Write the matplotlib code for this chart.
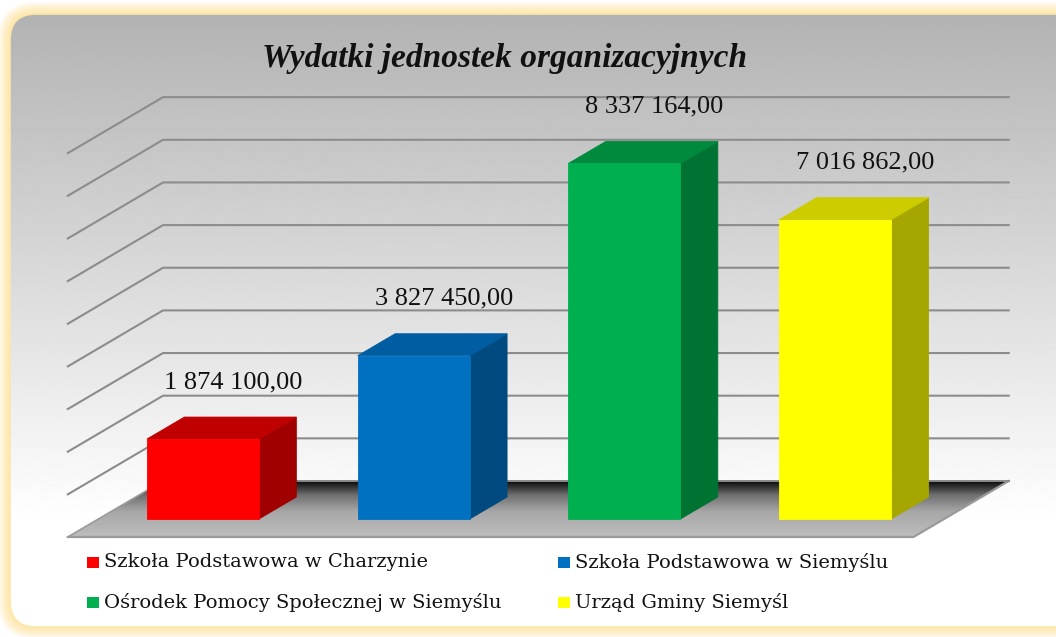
import numpy as np
import matplotlib
matplotlib.use("Agg")
import matplotlib.pyplot as plt
from matplotlib.patches import Polygon, Rectangle, FancyBboxPatch
from matplotlib.colors import LinearSegmentedColormap

# --- data ---
categories = ["Szkoła Podstawowa w Charzynie", "Szkoła Podstawowa w Siemyślu",
              "Ośrodek Pomocy Społecznej w Siemyślu", "Urząd Gminy Siemyśl"]
values = [1874100.00, 3827450.00, 8337164.00, 7016862.00]
value_labels = ["1 874 100,00", "3 827 450,00", "8 337 164,00", "7 016 862,00"]
grid_values = [1e6, 2e6, 3e6, 4e6, 5e6, 6e6, 7e6, 8e6, 9e6]
title = "Wydatki jednostek organizacyjnych"

front_colors = ["#FF0000", "#0070C0", "#00B050", "#FFFF00"]
top_colors = ["#C00000", "#005DA2", "#008A3E", "#CCCC00"]
side_colors = ["#A00000", "#004A80", "#007333", "#A6A600"]

W, H = 1056, 637
fig = plt.figure(figsize=(W / 100, H / 100), dpi=100)
fig.patch.set_facecolor("white")

# --- background panel (pixel coords) ---
bg = fig.add_axes([0, 0, 1, 1], zorder=0)
bg.set_xlim(0, W)
bg.set_ylim(H, 0)
bg.axis("off")

px0, py0, px1, py1 = 10, 14, 1085, 627
for i in range(12, 0, -1):
    glow = FancyBboxPatch((px0 - i, py0 - i), px1 - px0 + 2 * i, py1 - py0 + 2 * i,
                          boxstyle="round,pad=0,rounding_size=%d" % (26 + i),
                          fc="#FFDD80", ec="none", alpha=0.07, zorder=0)
    bg.add_patch(glow)
panel = FancyBboxPatch((px0, py0), px1 - px0, py1 - py0,
                       boxstyle="round,pad=0,rounding_size=26",
                       fc="none", ec="#FCE7A8", lw=1.2, zorder=2)
bg.add_patch(panel)
rows = np.linspace(py0, py1, 300)
shade = np.clip(0.70 + 0.30 * (rows - py0) / (520 - py0), 0, 1)
img = bg.imshow(shade[:, None], cmap="gray", vmin=0, vmax=1, aspect="auto",
                extent=(px0, px1, py1, py0), interpolation="bilinear", zorder=1)
img.set_clip_path(panel)
bg.set_xlim(0, W)
bg.set_ylim(H, 0)

bg.text(505, 58, title, ha="center", va="center", fontsize=24,
        family="Liberation Serif", fontweight="bold", style="italic",
        color="#111111", zorder=3)

# legend, drawn as in the original: 2 columns, small squares
leg_x = [87, 558]
leg_y = [562, 602]
for i, (name, col) in enumerate(zip(categories, front_colors)):
    lx = leg_x[i % 2]
    ly = leg_y[i // 2]
    bg.add_patch(Rectangle((lx, ly - 5.5), 12, 11, fc=col, ec="none", zorder=3))
    bg.text(lx + 17, ly, name, ha="left", va="center", fontsize=14,
            family="DejaVu Serif", color="#111111", zorder=3)

# --- chart axes: x in categories, y in value units ---
ax = fig.add_axes([0, 0, 1, 1], zorder=1)
ax.patch.set_alpha(0)
xmin, xmax = -0.963, 4.048
ymin, ymax = -2.767e6, 12.169e6
ppx = W / (xmax - xmin)     # pixels per category
ppy = H / (ymax - ymin)     # pixels per value unit


def depth(d):
    # offset going "into" the picture by d pixels (up and to the right)
    return d * 1.7 / ppx, d / ppy


x = np.arange(len(values))
hw = 56 / ppx
fl_left, fl_right = -0.496, 3.517
fdx, fdy = depth(-18)
wdx, wdy = depth(38)
bdx, bdy = depth(22)

# floor
floor_pts = [(fl_left + fdx, fdy), (fl_right + fdx, fdy),
             (fl_right + wdx, wdy), (fl_left + wdx, wdy)]
floor = Polygon(floor_pts, closed=True, fc="none", ec="none")
ax.add_patch(floor)
cmap = LinearSegmentedColormap.from_list(
    "floor", [(0, "#0a0a0a"), (0.25, "#707070"), (0.55, "#a8a8a8"), (1, "#bdbdbd")])
grad = np.linspace(0, 1, 200)[:, None]
fimg = ax.imshow(grad, cmap=cmap, aspect="auto", origin="upper",
                 extent=(fl_left + fdx, fl_right + wdx, fdy, wdy),
                 interpolation="bilinear", zorder=1)
fimg.set_clip_path(floor)
ax.plot([fl_left + fdx, fl_right + fdx, fl_right + wdx],
        [fdy, fdy, wdy], color="#9a9a9a", lw=1.6, zorder=2)
ax.plot([fl_left + fdx, fl_left + wdx], [fdy, wdy], color="#9a9a9a", lw=1.2, zorder=2)
ax.plot([fl_left + wdx, fl_right + wdx], [wdy, wdy], color="#8a8a8a", lw=1.4, zorder=2)

# gridlines on back and side walls
for g in grid_values:
    ax.plot([fl_left + fdx, fl_left + wdx, fl_right + wdx],
            [g + fdy, g + wdy, g + wdy], color="#8c8c8c", lw=1.5, zorder=2)

# 3D-looking bars
for xi, v, fc, tc, sc, lab in zip(x, values, front_colors, top_colors, side_colors, value_labels):
    ax.add_patch(Polygon([(xi + hw, 0), (xi + hw + bdx, bdy), (xi + hw + bdx, v + bdy), (xi + hw, v)],
                         closed=True, fc=sc, ec=sc, lw=0.6, zorder=3))
    ax.add_patch(Polygon([(xi - hw, v), (xi + hw, v), (xi + hw + bdx, v + bdy), (xi - hw + bdx, v + bdy)],
                         closed=True, fc=tc, ec=tc, lw=0.6, zorder=3))
    ax.add_patch(Rectangle((xi - hw, 0), 2 * hw, v, fc=fc, ec=fc, lw=0.6, zorder=4))
    ax.text(xi + 30 / ppx, v + 57 / ppy, lab, ha="center", va="center", fontsize=19,
            family="Liberation Serif", color="#111111", zorder=5)

ax.set_xlim(xmin, xmax)
ax.set_ylim(ymin, ymax)
ax.axis("off")

fig.savefig("out.png", dpi=100)
